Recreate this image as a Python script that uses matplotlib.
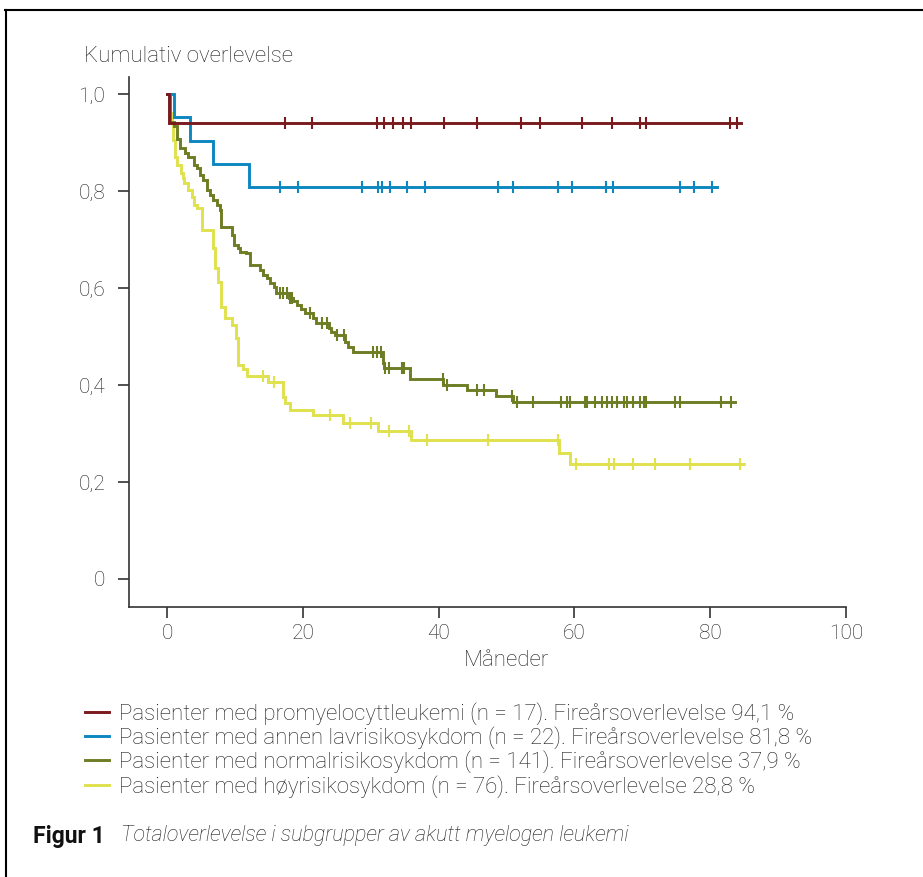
import matplotlib
matplotlib.use("Agg")
import matplotlib.pyplot as plt
from matplotlib.lines import Line2D
import numpy as np

plt.rcParams['font.family'] = ['Roboto', 'DejaVu Sans']

# Kaplan-Meier steps (months, cumulative survival), censor marks, end of follow-up
red_t = [0, 0.35]
red_s = [1.0, 0.941]
red_cens = [17.4, 21.3, 30.9, 32.0, 33.3, 34.7, 36.0, 40.8, 45.6, 52.2, 55.0,
            61.1, 65.6, 69.7, 70.6, 82.9, 84.0]
red_end = 84.5

blue_t = [0, 1.0, 3.4, 6.8, 12.1]
blue_s = [1.0, 0.952, 0.904, 0.855, 0.808]
blue_cens = [16.6, 19.3, 28.7, 31.1, 31.6, 32.9, 35.3, 38.0, 48.8, 50.9, 57.6,
             59.6, 64.6, 65.7, 75.6, 77.6, 80.3]
blue_end = 81.0

green_t = [0, 0.5, 1.0, 1.4, 1.9, 2.6, 3.1, 3.9, 4.4, 4.9, 5.35, 5.85, 6.3, 6.8,
           7.3, 7.8, 7.95, 9.5, 9.8, 10.5, 10.75, 11.7, 12.2, 13.7, 14.2, 14.7,
           15.2, 15.7, 16.05, 17.9, 18.6, 19.1, 19.8, 20.3, 21.5, 22.0, 23.8,
           24.2, 24.7, 26.2, 26.7, 27.4, 31.8, 32.0, 35.8, 40.7, 44.2, 48.4, 51.0]
green_s = [1.0, 0.943, 0.933, 0.908, 0.888, 0.878, 0.871, 0.854, 0.847, 0.833,
           0.823, 0.802, 0.792, 0.781, 0.771, 0.761, 0.726, 0.709, 0.689, 0.682,
           0.675, 0.671, 0.647, 0.637, 0.627, 0.620, 0.611, 0.601, 0.590, 0.579,
           0.572, 0.565, 0.556, 0.548, 0.537, 0.527, 0.517, 0.510, 0.503, 0.489,
           0.479, 0.468, 0.446, 0.434, 0.412, 0.400, 0.390, 0.377, 0.364]
green_cens = [16.6, 17.1, 17.7, 18.1, 18.4, 21.1, 22.8, 23.5, 25.0, 26.0, 30.4,
              30.9, 31.5, 32.1, 32.7, 34.6, 34.9, 40.6, 41.2, 45.6, 46.7, 50.8,
              51.6, 53.9, 58.0, 58.9, 59.4, 61.5, 61.8, 63.0, 64.0, 64.8, 65.5,
              66.2, 67.3, 67.8, 68.6, 69.7, 70.3, 70.6, 74.8, 75.6, 81.6, 83.1]
green_end = 83.7

yellow_t = [0, 0.4, 0.7, 0.93, 1.18, 1.4, 2.0, 2.3, 2.5, 3.1, 3.6, 4.0, 4.4, 5.1,
            6.8, 7.1, 7.5, 7.9, 8.0, 8.5, 9.6, 10.2, 10.5, 11.2, 11.8, 14.9,
            17.1, 17.4, 18.1, 21.5, 25.9, 31.0, 35.9, 57.7, 59.3]
yellow_s = [1.0, 0.96, 0.94, 0.905, 0.871, 0.854, 0.836, 0.826, 0.816, 0.802,
            0.788, 0.771, 0.764, 0.720, 0.682, 0.641, 0.613, 0.600, 0.561, 0.537,
            0.524, 0.496, 0.441, 0.432, 0.419, 0.407, 0.376, 0.362, 0.348, 0.337,
            0.321, 0.304, 0.287, 0.260, 0.236]
yellow_cens = [14.2, 15.7, 24.0, 26.9, 30.1, 32.7, 35.7, 38.3, 47.3, 57.6, 60.3,
               65.1, 65.9, 68.6, 71.9, 77.0, 84.4]
yellow_end = 85.0

labels = [
    "Pasienter med promyelocyttleukemi (n = 17). Fireårsoverlevelse 94,1 %",
    "Pasienter med annen lavrisikosykdom (n = 22). Fireårsoverlevelse 81,8 %",
    "Pasienter med normalrisikosykdom (n = 141). Fireårsoverlevelse 37,9 %",
    "Pasienter med høyrisikosykdom (n = 76). Fireårsoverlevelse 28,8 %",
]
colors = ['#7a1a1e', '#0d87c0', '#6c7d24', '#dfe14d']

yticks = [0, 0.2, 0.4, 0.6, 0.8, 1.0]
yticklabels = ['0', '0,2', '0,4', '0,6', '0,8', '1,0']
xticks = [0, 20, 40, 60, 80, 100]

groups = [
    (red_t, red_s, red_cens, red_end),
    (blue_t, blue_s, blue_cens, blue_end),
    (green_t, green_s, green_cens, green_end),
    (yellow_t, yellow_s, yellow_cens, yellow_end),
]

txtcol = '#1e1e1e'

fig = plt.figure(figsize=(9.23, 8.77), dpi=100)
ax = fig.add_axes([0.1398, 0.3079, 0.7768, 0.6043])

handles = []
for i in [3, 2, 1, 0]:
    t, s, cens, end = groups[i]
    t = np.array(t)
    s = np.array(s)
    tp = np.append(t, end)
    sp = np.append(s, s[-1])
    line, = ax.step(tp, sp, where='post', color=colors[i], lw=2.1,
                    solid_joinstyle='miter', zorder=3 + (3 - i))
    cy = s[np.searchsorted(t, cens, side='right') - 1]
    ax.plot(cens, cy, ls='none', marker='|', ms=8, mew=1.5,
            color=colors[i], zorder=3 + (3 - i))
    handles.append((i, line))
handles = [h for _, h in sorted(handles)]

ax.set_xlim(-5.6, 100)
ax.set_ylim(-0.058, 1.035)
ax.set_xticks(xticks)
ax.set_yticks(yticks)
ax.set_yticklabels(yticklabels)
for sp_name in ['top', 'right']:
    ax.spines[sp_name].set_visible(False)
for sp_name in ['left', 'bottom']:
    ax.spines[sp_name].set_color('#333333')
    ax.spines[sp_name].set_linewidth(1.2)
ax.tick_params(axis='both', direction='out', length=8, width=1.2,
               color='#333333', labelcolor=txtcol, labelsize=15)
ax.tick_params(axis='y', pad=9)
ax.tick_params(axis='x', pad=4)
for lab in ax.get_xticklabels() + ax.get_yticklabels():
    lab.set_fontweight('light')

ax.set_xlabel("Måneder", fontsize=16, color=txtcol, fontweight='light')
ax.xaxis.set_label_coords(0.5265, -0.081)

fig.text(84 / 923, 1 - 56 / 877, "Kumulativ overlevelse", fontsize=16,
         color=txtcol, fontweight='light', va='center', ha='left')

fig.legend(handles, labels, loc='upper left',
           bbox_to_anchor=(76 / 923, 1 - 693 / 877), frameon=False,
           handlelength=1.1, handletextpad=0.45,
           labelspacing=0.07, borderaxespad=0,
           prop={'weight': 'light', 'size': 16})
for txt in fig.legends[0].get_texts():
    txt.set_color(txtcol)

fig.text(33 / 923, 1 - 836 / 877, "Figur 1", fontsize=16.5, fontweight='bold',
         color='#111111', va='center', ha='left')
fig.text(121 / 923, 1 - 836 / 877,
         "Totaloverlevelse i subgrupper av akutt myelogen leukemi",
         fontsize=15.5, style='italic', fontweight='light', color=txtcol,
         va='center', ha='left')

# frame lines (top and left only)
fig.add_artist(Line2D([5 / 923, 1], [1 - 10 / 877, 1 - 10 / 877],
                      transform=fig.transFigure, color='black', lw=1.5))
fig.add_artist(Line2D([6 / 923, 6 / 923], [0, 1 - 10 / 877],
                      transform=fig.transFigure, color='black', lw=1.5))

fig.savefig("out.png", dpi=100)
